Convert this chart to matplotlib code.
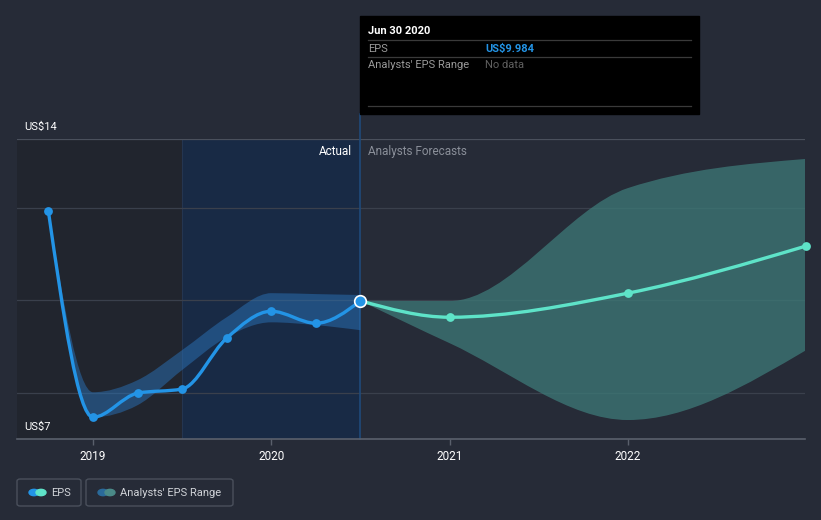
import matplotlib
matplotlib.use("Agg")
import matplotlib.pyplot as plt
import numpy as np
from matplotlib.path import Path
from matplotlib.patches import PathPatch, FancyBboxPatch, Circle, Rectangle

plt.rcParams["font.family"] = ["Roboto", "DejaVu Sans"]

# --- data (decimal years, US$) ---
eps_x = [2018.75, 2019.0, 2019.25, 2019.5, 2019.75, 2020.0, 2020.25, 2020.5]
eps_y = [11.92, 7.47, 7.99, 8.08, 9.18, 9.76, 9.50, 9.984]

past_rng_x = [2018.75, 2019.0, 2019.25, 2019.5, 2019.75, 2020.0, 2020.25, 2020.5]
past_rng_hi = [11.92, 8.01, 8.27, 8.92, 9.63, 10.15, 10.13, 10.11]
past_rng_lo = [11.92, 7.47, 7.73, 8.49, 9.20, 9.52, 9.46, 9.35]

fc_x = [2020.5, 2021.0, 2022.0, 2023.0]
fc_y = [9.984, 9.63, 10.15, 11.17]
fc_hi = [9.984, 9.98, 12.42, 13.05]
fc_lo = [9.984, 9.07, 7.41, 8.92]

year_ticks = [2019, 2020, 2021, 2022]
grid_vals = [8, 10, 12]

BG = "#262b37"
BLUE = "#2394e6"
TEAL = "#5ee3c8"


def monotone_segments(xs, ys):
    """Bezier control points like d3.curveMonotoneX."""
    xs = np.asarray(xs, float); ys = np.asarray(ys, float)
    h = np.diff(xs); s = np.diff(ys) / h
    n = len(xs)
    t = np.zeros(n)
    for i in range(1, n - 1):
        if s[i - 1] * s[i] <= 0:
            t[i] = 0
        else:
            p = (s[i - 1] * h[i] + s[i] * h[i - 1]) / (h[i - 1] + h[i])
            t[i] = np.sign(s[i - 1]) * min(abs(s[i - 1]), abs(s[i]), 0.5 * abs(p)) * 2
    if n > 2:
        t[0] = (3 * s[0] - t[1]) / 2
        t[-1] = (3 * s[-1] - t[-2]) / 2
    else:
        t[0] = t[-1] = s[0]
    segs = []
    for i in range(n - 1):
        dx = h[i] / 3
        segs.append(((xs[i] + dx, ys[i] + dx * t[i]),
                     (xs[i + 1] - dx, ys[i + 1] - dx * t[i + 1]),
                     (xs[i + 1], ys[i + 1])))
    return segs


def curve_verts(xs, ys):
    verts = [(xs[0], ys[0])]
    codes = [Path.MOVETO]
    for c1, c2, p in monotone_segments(xs, ys):
        verts += [c1, c2, p]
        codes += [Path.CURVE4] * 3
    return verts, codes


def line_path(xs, ys):
    v, c = curve_verts(xs, ys)
    return Path(v, c)


def band_path(xs, hi, lo):
    v1, c1 = curve_verts(xs, hi)
    v2, c2 = curve_verts(xs[::-1], lo[::-1])
    c2[0] = Path.LINETO
    verts = v1 + v2 + [v1[0]]
    codes = c1 + c2 + [Path.CLOSEPOLY]
    return Path(verts, codes)


fig = plt.figure(figsize=(8.21, 5.20), dpi=100, facecolor=BG)
ax = fig.add_axes([17 / 821, 81 / 520, 788 / 821, 300 / 520])
ax.set_facecolor(BG)
x0, x1 = 2018.574, 2022.993
ax.set_xlim(x0, x1)
ax.set_ylim(7, 13.48)

# shaded regions
ax.axvspan(x0, 2019.5, color="#21252e", zorder=0, lw=0)
ax.axvspan(2019.5, 2020.5, color="#182a45", zorder=0, lw=0)
ax.axvline(2019.5, color="#243550", lw=0.8, zorder=0.5)
ax.plot([2020.5, 2020.5], [0, 1.085], transform=ax.get_xaxis_transform(),
        color="#1f4a7a", lw=1.2, zorder=1, clip_on=False)

for g in grid_vals:
    ax.axhline(g, color="#3a404c", lw=0.9, zorder=0.6)
ax.axhline(13.48, color="#4a505c", lw=0.9, zorder=0.6)

# bands
ax.add_patch(PathPatch(band_path(past_rng_x, past_rng_hi, past_rng_lo),
                       facecolor="#2a72b8", alpha=0.5, lw=0, zorder=2))
ax.add_patch(PathPatch(band_path(fc_x, fc_hi, fc_lo),
                       facecolor="#3d7a78", alpha=0.75, lw=0, zorder=2))

# lines
ax.add_patch(PathPatch(line_path(eps_x, eps_y), facecolor="none",
                       edgecolor=BLUE, lw=2.4, zorder=4, capstyle="round"))
ax.add_patch(PathPatch(line_path(fc_x, fc_y), facecolor="none",
                       edgecolor=TEAL, lw=2.4, zorder=4, capstyle="round"))
ax.scatter(eps_x[:-1], eps_y[:-1], s=40, color=BLUE, zorder=5, lw=0)
ax.scatter(fc_x[1:], fc_y[1:], s=40, color=TEAL, zorder=5, lw=0, clip_on=False)
ax.scatter([eps_x[-1]], [eps_y[-1]], s=70, color=BLUE, edgecolor="white",
           lw=1.2, zorder=6)

for sp in ["top", "left", "right"]:
    ax.spines[sp].set_visible(False)
ax.spines["bottom"].set_color("#5a606c")
ax.spines["bottom"].set_linewidth(1.2)
ax.set_yticks([])
ax.set_xticks(year_ticks)
ax.set_xticklabels([str(y) for y in year_ticks])
ax.tick_params(axis="x", colors="#5a606c", labelcolor="white", labelsize=8.5,
               length=4, width=1, pad=4)

W, H = 821, 520
FS = 8

# y labels
fig.text(24 / W, 1 - 127 / H, "US$14", color="white", fontsize=FS, va="center", ha="left")
fig.text(24 / W, 1 - 427 / H, "US$7", color="white", fontsize=FS, va="center", ha="left")

ax.text(2020.455, 13.2, "Actual", color="white", fontsize=8.5, ha="right", va="center")
ax.text(2020.545, 13.2, "Analysts Forecasts", color="#8a8f99", fontsize=8.5,
        ha="left", va="center")

# tooltip
fig.patches.append(Rectangle((360 / W, 1 - 114 / H), 339 / W, 98 / H,
                             transform=fig.transFigure, color="black", zorder=10))
for yy in [40, 57, 106]:
    fig.add_artist(plt.Line2D([368 / W, 691 / W], [1 - yy / H] * 2,
                              color="#3a3a3a", lw=0.9, zorder=11))
fig.text(368 / W, 1 - 31 / H, "Jun 30 2020", color="white", fontsize=FS,
         fontweight="bold", va="center", zorder=12)
fig.text(368 / W, 1 - 48.5 / H, "EPS", color="#9a9a9a", fontsize=FS, va="center", zorder=12)
fig.text(485 / W, 1 - 48.5 / H, "US$9.984", color=BLUE, fontsize=FS,
         fontweight="bold", va="center", zorder=12)
fig.text(368 / W, 1 - 65.5 / H, "Analysts' EPS Range", color="#9a9a9a", fontsize=FS,
         va="center", zorder=12)
fig.text(485 / W, 1 - 65.5 / H, "No data", color="#606060", fontsize=FS,
         va="center", zorder=12)

# legend
def legend_box(x, w, label, c1, c2):
    fig.patches.append(FancyBboxPatch((x / W, 1 - 506 / H), w / W, 27 / H,
                                      boxstyle="round,pad=0,rounding_size=0.004",
                                      transform=fig.transFigure, facecolor="none",
                                      edgecolor="#4a505c", lw=1))
    cy = 1 - 492.5 / H
    r = 5 / W
    fig.patches.append(Circle(((x + 17) / W, cy), r, transform=fig.transFigure,
                              color=c1, zorder=3))
    fig.patches.append(Circle(((x + 24) / W, cy), r, transform=fig.transFigure,
                              color=c2, zorder=4))
    fig.text((x + 34) / W, cy, label, color="#d0d3d8", fontsize=FS, va="center")


legend_box(17, 64, "EPS", BLUE, TEAL)
legend_box(86, 147, "Analysts' EPS Range", "#2a6a9a", "#4a8a88")

fig.savefig("out.png", dpi=100, facecolor=BG)
